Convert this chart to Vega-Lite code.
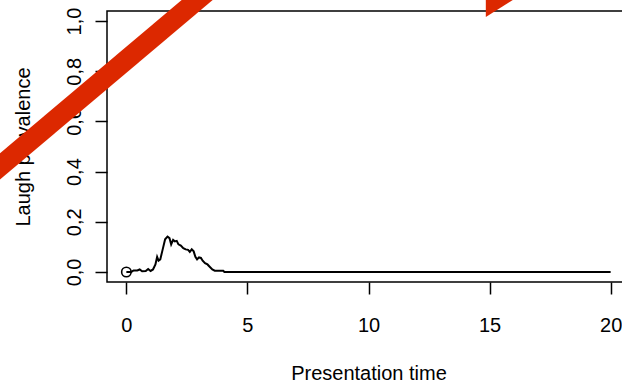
{
  "$schema": "https://vega.github.io/schema/vega-lite/v6.json",
  "autosize": {"type": "none"},
  "padding": {"left": 107, "top": 11, "right": 0, "bottom": 105},
  "width": 523,
  "height": 271,
  "background": "white",
  "config": {
    "view": {"stroke": "black", "strokeWidth": 1.5},
    "font": "Liberation Sans",
    "axis": {"grid": false, "domain": false, "tickColor": "black", "tickWidth": 1.5, "tickSize": 12, "labelColor": "black", "titleColor": "black", "labelFont": "Liberation Sans", "titleFont": "Liberation Sans", "labelFontSize": 20, "titleFontSize": 20, "titleFontWeight": "normal"}
  },
  "datasets": {
    "curve": [
      {"x": 0, "y": 0}, {"x": 0.2, "y": 0}, {"x": 0.3, "y": 0.006}, {"x": 0.45, "y": 0.006},
      {"x": 0.55, "y": 0.01}, {"x": 0.65, "y": 0.003}, {"x": 0.8, "y": 0.004}, {"x": 0.9, "y": 0.012},
      {"x": 1.0, "y": 0.004}, {"x": 1.1, "y": 0.01}, {"x": 1.2, "y": 0.03}, {"x": 1.27, "y": 0.06},
      {"x": 1.33, "y": 0.045}, {"x": 1.4, "y": 0.05}, {"x": 1.5, "y": 0.09}, {"x": 1.6, "y": 0.13},
      {"x": 1.7, "y": 0.141}, {"x": 1.78, "y": 0.135}, {"x": 1.85, "y": 0.11}, {"x": 1.93, "y": 0.128},
      {"x": 2.0, "y": 0.122}, {"x": 2.08, "y": 0.124}, {"x": 2.15, "y": 0.11}, {"x": 2.25, "y": 0.105},
      {"x": 2.35, "y": 0.095}, {"x": 2.45, "y": 0.09}, {"x": 2.55, "y": 0.088}, {"x": 2.62, "y": 0.08},
      {"x": 2.7, "y": 0.09}, {"x": 2.78, "y": 0.082}, {"x": 2.85, "y": 0.06}, {"x": 2.92, "y": 0.05},
      {"x": 3.0, "y": 0.058}, {"x": 3.08, "y": 0.056}, {"x": 3.15, "y": 0.045}, {"x": 3.25, "y": 0.035},
      {"x": 3.35, "y": 0.03}, {"x": 3.45, "y": 0.02}, {"x": 3.55, "y": 0.01}, {"x": 3.65, "y": 0.005},
      {"x": 3.8, "y": 0.005}, {"x": 4.0, "y": 0.005}, {"x": 4.05, "y": 0}, {"x": 20, "y": 0}
    ],
    "start": [{"x": 0, "y": 0}],
    "slash": [{"x": -6.85, "y": 0.288}, {"x": 5.53, "y": 1.296}],
    "wedge": [{"x": 14.845, "y": 1.016, "y2": 1.6}, {"x": 17.0, "y": 1.147, "y2": 1.6}]
  },
  "encoding": {
    "x": {"field": "x", "type": "quantitative",
      "scale": {"domain": [-0.8, 20.8], "nice": false, "zero": false},
      "axis": {"values": [0, 5, 10, 15, 20], "title": "Presentation time", "labelPadding": 21, "titleY": 97, "titleBaseline": "alphabetic"}},
    "y": {"field": "y", "type": "quantitative",
      "scale": {"domain": [-0.04, 1.04], "nice": false, "zero": false},
      "axis": {"values": [0, 0.2, 0.4, 0.6, 0.8, 1.0], "labelExpr": "replace(format(datum.value, '.1f'), '.', ',')", "labelAngle": -90, "labelAlign": "center", "labelBaseline": "alphabetic", "labelPadding": 15, "title": "Laugh prevalence", "titleX": -78, "titleBaseline": "alphabetic"}}
  },
  "layer": [
    {"data": {"name": "curve"}, "mark": {"type": "line", "color": "black", "strokeWidth": 2}},
    {"data": {"name": "start"}, "mark": {"type": "point", "shape": "circle", "filled": false, "color": "black", "size": 90, "strokeWidth": 1.6, "opacity": 1}},
    {"data": {"name": "slash"}, "mark": {"type": "line", "color": "#dc2800", "strokeWidth": 20, "strokeCap": "butt", "clip": false}},
    {"data": {"name": "wedge"}, "mark": {"type": "area", "color": "#dc2800", "opacity": 1, "clip": false}, "encoding": {"y2": {"field": "y2"}}}
  ]
}
